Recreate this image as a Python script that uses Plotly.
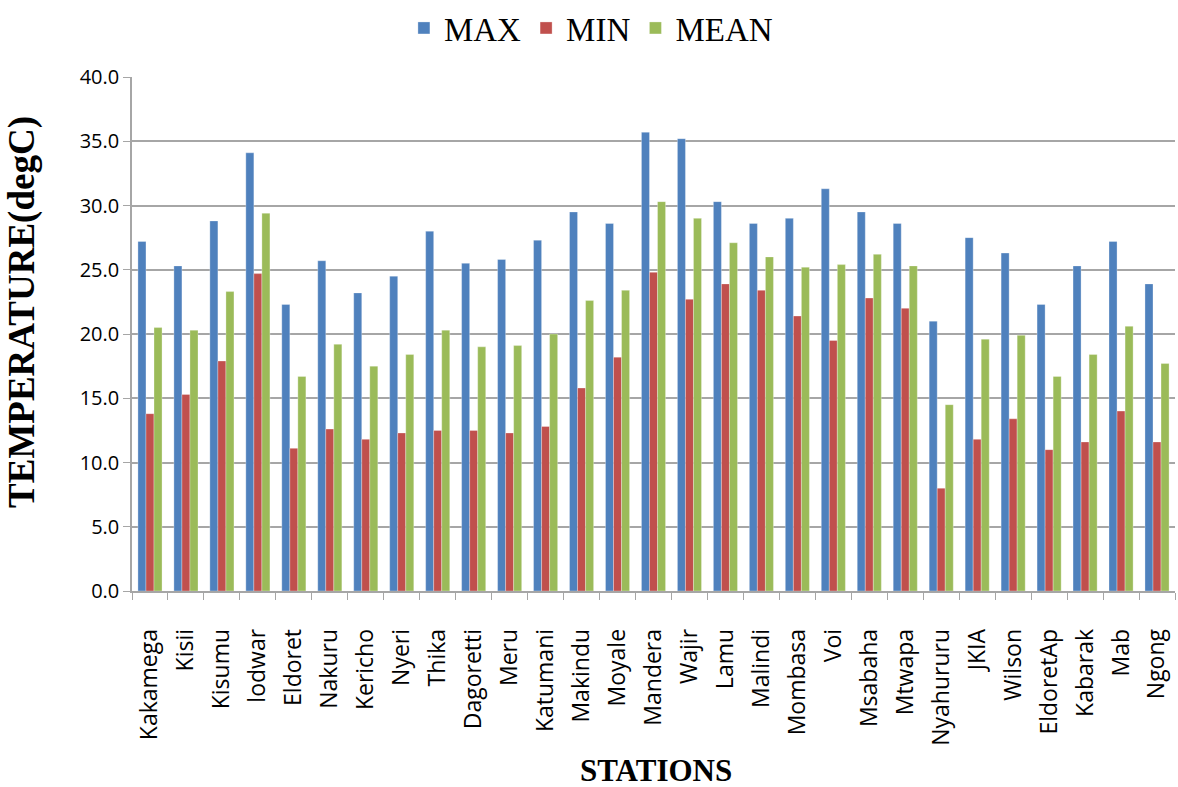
import plotly.graph_objects as go

stations = ["Kakamega", "Kisii", "Kisumu", "lodwar", "Eldoret", "Nakuru", "Kericho", "Nyeri",
            "Thika", "Dagoretti", "Meru", "Katumani", "Makindu", "Moyale", "Mandera", "Wajir",
            "Lamu", "Malindi", "Mombasa", "Voi", "Msabaha", "Mtwapa", "Nyahururu", "JKIA",
            "Wilson", "EldoretAp", "Kabarak", "Mab", "Ngong"]
max_vals = [27.2, 25.3, 28.8, 34.1, 22.3, 25.7, 23.2, 24.5, 28.0, 25.5, 25.8, 27.3, 29.5, 28.6,
            35.7, 35.2, 30.3, 28.6, 29.0, 31.3, 29.5, 28.6, 21.0, 27.5, 26.3, 22.3, 25.3, 27.2, 23.9]
min_vals = [13.8, 15.3, 17.9, 24.7, 11.1, 12.6, 11.8, 12.3, 12.5, 12.5, 12.3, 12.8, 15.8, 18.2,
            24.8, 22.7, 23.9, 23.4, 21.4, 19.5, 22.8, 22.0, 8.0, 11.8, 13.4, 11.0, 11.6, 14.0, 11.6]
mean_vals = [20.5, 20.3, 23.3, 29.4, 16.7, 19.2, 17.5, 18.4, 20.3, 19.0, 19.1, 20.0, 22.6, 23.4,
             30.3, 29.0, 27.1, 26.0, 25.2, 25.4, 26.2, 25.3, 14.5, 19.6, 19.9, 16.7, 18.4, 20.6, 17.7]
y_ticks = [0, 5, 10, 15, 20, 25, 30, 35, 40]

series = [("MAX", max_vals, "#4F81BD"), ("MIN", min_vals, "#C0504D"), ("MEAN", mean_vals, "#9BBB59")]

fig = go.Figure()
for name, vals, col in series:
    fig.add_trace(go.Bar(x=stations, y=vals, name=name, marker_color=col,
                         marker_line=dict(color="rgba(255,255,255,0.5)", width=0.6)))

gray = "#A6A6A6"
fig.update_layout(
    width=1178, height=787,
    barmode="group", bargap=0.33, bargroupgap=0,
    plot_bgcolor="white", paper_bgcolor="white",
    margin=dict(l=132, r=3, t=0, b=196),
    legend=dict(orientation="h", x=0.44, xanchor="center", y=1.0, yanchor="top",
                font=dict(family="Liberation Serif", size=33, color="black"),
                itemwidth=30, traceorder="normal"),
    xaxis=dict(type="category", showline=True, linecolor=gray, linewidth=1.5, automargin=False,
               ticks="outside", tickson="boundaries", ticklen=7, tickcolor=gray,
               ticklabelstandoff=27,
               tickangle=-90, tickfont=dict(family="Open Sans", size=23, color="black")),
    yaxis=dict(range=[0, 40], tickvals=y_ticks, tickformat=".1f", automargin=False,
               domain=[0, 514 / 591],
               showline=True, linecolor=gray, linewidth=1.5,
               ticks="outside", ticklen=7, tickcolor=gray,
               showgrid=True, gridcolor=gray, gridwidth=1.5, zeroline=False,
               tickfont=dict(family="Open Sans", size=20, color="black")),
    annotations=[
        dict(text="<b>STATIONS</b>", xref="paper", yref="paper", x=0.5024, y=-0.3029,
             xanchor="center", yanchor="middle", showarrow=False,
             font=dict(family="Liberation Serif", size=31, color="black")),
        dict(text="<b>TEMPERATURE(degC)</b>", xref="paper", yref="paper", x=-0.1055, y=0.4721,
             xanchor="center", yanchor="middle", showarrow=False, textangle=-90,
             font=dict(family="Liberation Serif", size=37, color="black")),
    ],
)

fig.write_html("out.html", config={"displayModeBar": False},
               post_script="document.body.style.margin='0';")
